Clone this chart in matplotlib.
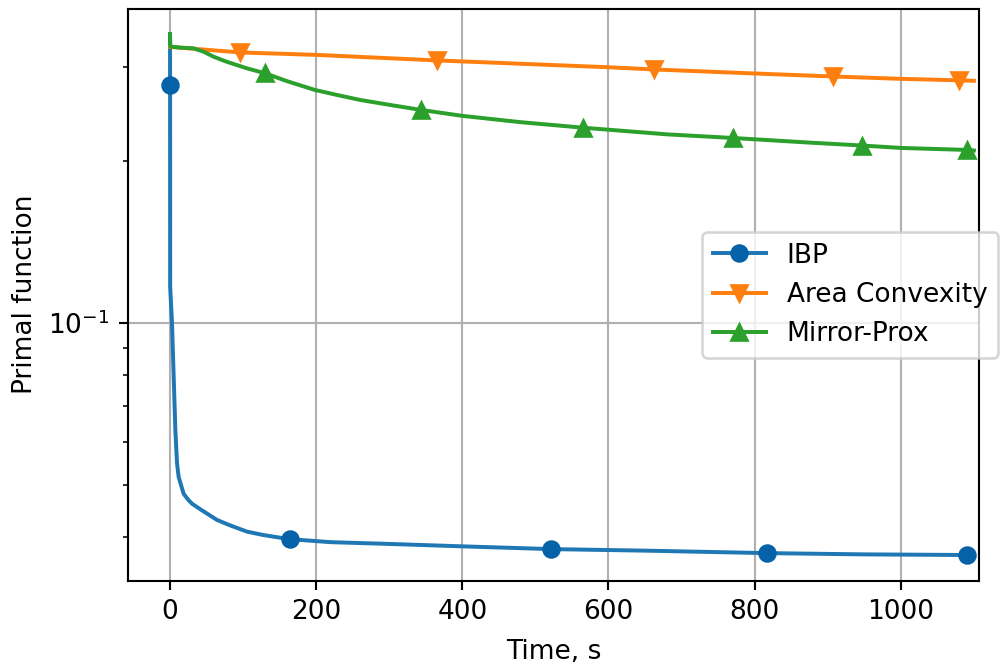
import matplotlib
matplotlib.use("Agg")
import matplotlib.pyplot as plt

# ---- data ----
ibp_t = [0, 0.1, 0.2, 2.7, 7.3, 9.6, 11.8, 18.6, 25.4, 30.1, 43.8, 64.3, 82.5,
         105.3, 128, 163.6, 219, 300, 400, 521, 650, 817, 950, 1090]
ibp_v = [0.3452, 0.2774, 0.1168, 0.1001, 0.0632, 0.0548, 0.0517, 0.0481, 0.0468,
         0.0461, 0.0448, 0.0430, 0.0420, 0.0409, 0.0403, 0.0396, 0.0391, 0.0388,
         0.0384, 0.03795, 0.0377, 0.0373, 0.0371, 0.0370]
ibp_marks = [1, 15, 19, 21, 23]

ac_t = [0, 96, 200, 365, 600, 662, 800, 907, 1000, 1079, 1100]
ac_v = [0.3266, 0.3189, 0.3156, 0.3082, 0.2993, 0.2965, 0.2914, 0.2877, 0.2848,
        0.2830, 0.2824]
ac_marks = [1, 3, 5, 7, 9]

mp_t = [0, 0.5, 15, 32, 46, 60, 77, 105, 130, 160, 198, 230, 260, 300, 344, 400,
        480, 565, 680, 771, 880, 947, 1000, 1090, 1100]
mp_v = [0.3448, 0.327, 0.3255, 0.3246, 0.3199, 0.3130, 0.3066, 0.2980, 0.2917,
        0.2820, 0.2716, 0.2655, 0.2602, 0.2548, 0.2492, 0.2430, 0.2365, 0.2310,
        0.2245, 0.2210, 0.2165, 0.2140, 0.2118, 0.2100, 0.2095]
mp_marks = [8, 14, 17, 19, 21, 23]

labels = ["IBP", "Area Convexity", "Mirror-Prox"]

DPI = 190
fig = plt.figure(figsize=(1008 / DPI, 667 / DPI), dpi=DPI)
ax = fig.add_axes([128 / 1008, 86 / 667, (979 - 128) / 1008, (581 - 8.5) / 667])

ax.plot(ibp_t, ibp_v, color="C0", marker="o", markevery=ibp_marks,
        mfc="#0561a8", mec="#0561a8", label=labels[0])
ax.plot(ac_t, ac_v, color="C1", marker="v", markevery=ac_marks, label=labels[1])
ax.plot(mp_t, mp_v, color="C2", marker="^", markevery=mp_marks, label=labels[2])

ax.set_yscale("log")
ax.set_ylim(0.0331, 0.385)
ax.set_xlim(-57.5, 1107)
ax.grid(True)
ax.set_xlabel("Time, s", labelpad=5)
ax.set_ylabel("Primal function")
ax.legend(loc="center right", bbox_to_anchor=(1.0223, 0.5), borderaxespad=0)

fig.savefig("out.png", dpi=DPI)
